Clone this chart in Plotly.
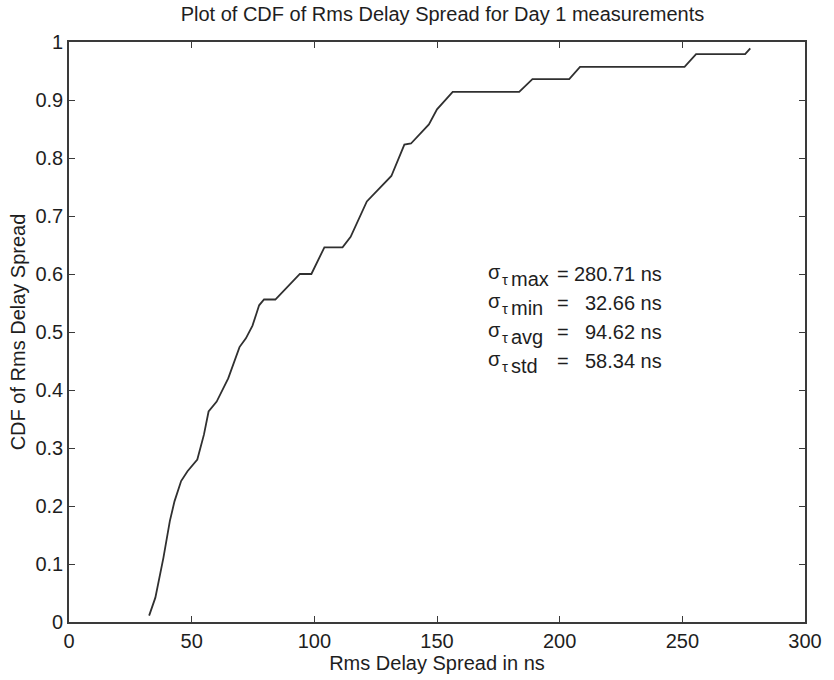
import plotly.graph_objects as go

# CDF curve
delay_ns = [32.66, 35.2, 38.5, 41.1, 43.0, 45.7, 48.3, 52.3, 55.0, 56.9, 60.2, 64.9,
            69.5, 72.1, 74.8, 77.5, 79.5, 84.1, 94.1, 98.8, 104.1, 111.5, 114.8, 121.4,
            131.4, 136.7, 139.4, 146.7, 150.0, 156.4, 183.5, 188.9, 203.9, 208.3, 250.9,
            255.6, 275.6, 277.7]
cdf = [0.011, 0.042, 0.111, 0.174, 0.208, 0.243, 0.260, 0.280, 0.323, 0.363, 0.380, 0.420,
       0.474, 0.489, 0.511, 0.546, 0.556, 0.556, 0.600, 0.600, 0.646, 0.646, 0.664, 0.725,
       0.769, 0.823, 0.825, 0.858, 0.884, 0.914, 0.914, 0.936, 0.936, 0.957, 0.957,
       0.979, 0.979, 0.989]

stat_names = ["max", "min", "avg", "std"]
stat_values = ["280.71 ns", "32.66 ns", "94.62 ns", "58.34 ns"]
stat_y = [0.60, 0.55, 0.50, 0.45]

x_ticks = [0, 50, 100, 150, 200, 250, 300]
y_ticks = [0, 0.1, 0.2, 0.3, 0.4, 0.5, 0.6, 0.7, 0.8, 0.9, 1]

FONT = "Liberation Sans, Arial, Helvetica, sans-serif"
INK = "#1e1e1e"

fig = go.Figure()
fig.add_trace(go.Scatter(x=delay_ns, y=cdf, mode="lines",
                         line=dict(color="#303030", width=1.8),
                         showlegend=False, hoverinfo="skip"))

ann = []
for name, val, yv in zip(stat_names, stat_values, stat_y):
    ann.append(dict(x=170.0, y=yv, xref="x", yref="y", text="σ",
                    showarrow=False, xanchor="left", yanchor="middle",
                    font=dict(size=20, color=INK, family=FONT), yshift=2))
    ann.append(dict(x=175.6, y=yv, xref="x", yref="y", text="τ",
                    showarrow=False, xanchor="left", yanchor="middle",
                    font=dict(size=15, color=INK, family=FONT), yshift=-5))
    ann.append(dict(x=179.3, y=yv, xref="x", yref="y", text=name,
                    showarrow=False, xanchor="left", yanchor="middle",
                    font=dict(size=20, color=INK, family=FONT), yshift=-5))
    ann.append(dict(x=201.5, y=yv, xref="x", yref="y", text="=",
                    showarrow=False, xanchor="center", yanchor="middle",
                    font=dict(size=20, color=INK, family=FONT)))
    ann.append(dict(x=242.5, y=yv, xref="x", yref="y", text=val,
                    showarrow=False, xanchor="right", yanchor="middle",
                    font=dict(size=20, color=INK, family=FONT)))

axis_common = dict(showline=True, linecolor="#3a3a3a", linewidth=1.6, mirror="ticks",
                   ticks="inside", ticklen=6, tickwidth=1.3, tickcolor="#3a3a3a",
                   showgrid=False, zeroline=False,
                   tickfont=dict(size=20, color=INK, family=FONT))

fig.update_layout(
    width=834, height=680,
    paper_bgcolor="white", plot_bgcolor="white",
    margin=dict(l=69, r=19, t=42, b=55),
    title=dict(text="Plot of CDF of Rms Delay Spread for Day 1 measurements",
               x=0.5305, xanchor="center", y=0.979, yanchor="middle",
               font=dict(size=20, color=INK, family=FONT)),
    xaxis=dict(range=[0, 300], tickvals=x_ticks, **axis_common,
               title=dict(text="Rms Delay Spread in ns", standoff=2,
                          font=dict(size=20, color=INK, family=FONT))),
    yaxis=dict(range=[0, 1], tickvals=y_ticks, **axis_common,
               title=dict(text="CDF of Rms Delay Spread", standoff=4,
                          font=dict(size=20, color=INK, family=FONT))),
    annotations=ann,
)

fig.write_html("out.html")
